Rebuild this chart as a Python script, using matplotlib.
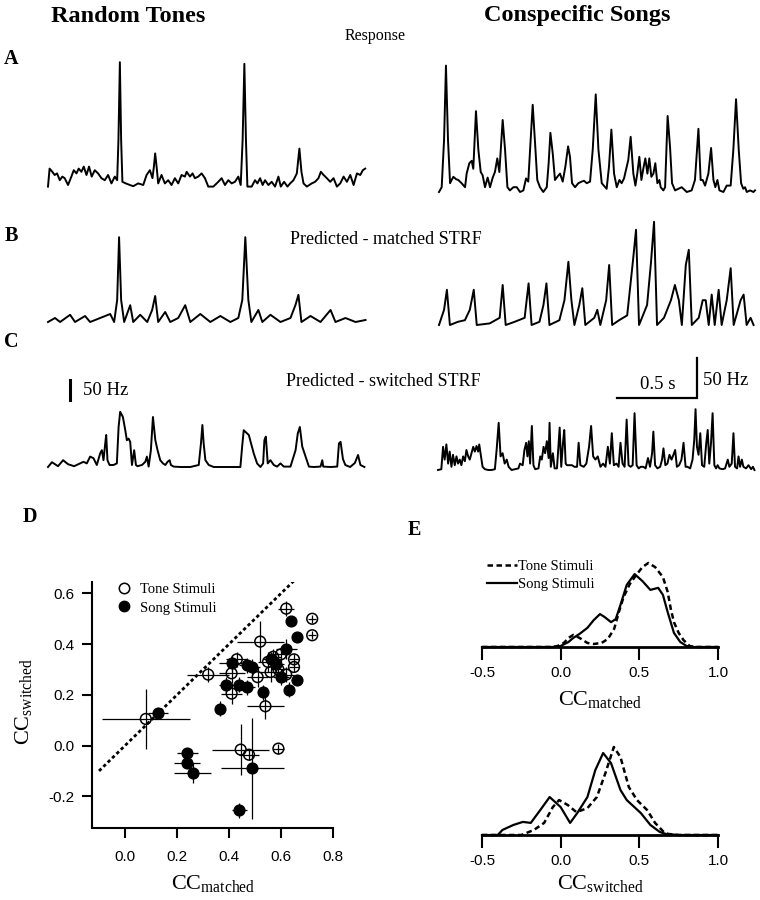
"""
Respuestas, predicciones STRF y comparacion CC (paneles A-E).
"""

import matplotlib
matplotlib.use('Agg')
import matplotlib.pyplot as plt
from matplotlib.lines import Line2D

plt.rcParams['font.family'] = ['Liberation Serif', 'DejaVu Serif']
plt.rcParams['mathtext.fontset'] = 'custom'
plt.rcParams['mathtext.rm'] = 'Liberation Serif'
plt.rcParams['mathtext.it'] = 'Liberation Serif:italic'

SANS = 'Liberation Sans'

# ============================================================
# DATOS - trazas (tiempo en ms, tasa en Hz)
# ============================================================

# A - Response, Random Tones
a_tone_t = [0, 10, 27, 42, 57, 74, 90, 105, 126, 147, 162, 179, 193, 210, 225, 242, 258, 275,
            294, 315, 336, 357, 378, 399, 420, 435, 443, 452, 460, 468, 489, 515, 536, 567,
            599, 620, 641, 657, 666, 674, 683, 693, 714, 735, 756, 777, 798, 819, 840, 861,
            872, 893, 909, 924, 945, 966, 987, 1008, 1040, 1071, 1092, 1113, 1134, 1155, 1176,
            1197, 1212, 1224, 1235, 1245, 1254, 1281, 1302, 1317, 1334, 1350, 1365, 1386,
            1407, 1428, 1449, 1464, 1485, 1506, 1523, 1544, 1565, 1581, 1594, 1607, 1628,
            1659, 1680, 1701, 1716, 1733, 1754, 1775, 1796, 1817, 1838, 1859, 1880, 1901,
            1922, 1943, 1964, 1980, 1995]
a_tone_r = [1, 46, 38, 30, 34, 17, 26, 22, 5, 26, 42, 34, 46, 38, 51, 30, 51, 26,
            42, 34, 22, 17, 30, 9, 26, 17, 117, 312, 117, 13, 9, 5, 2, 9,
            5, 30, 42, 22, 51, 84, 51, 9, 30, 9, 17, 5, 22, 9, 30, 26,
            38, 26, 34, 22, 26, 34, 22, 1, 1, 13, 22, 5, 17, 9, 13,
            26, 5, 117, 308, 117, 1, 1, 17, 9, 22, 5, 17, 5,
            13, 1, 26, 1, 13, 1, 9, 17, 34, 96, 38, 9, 1,
            9, 13, 22, 38, 30, 22, 13, 22, 1, 9, 26, 13, 30,
            5, 34, 30, 42, 46]

# A - Response, Conspecific Songs
a_song_t = [0, 17, 32, 44, 57, 70, 80, 91, 108, 122, 143, 165, 175, 192, 207, 217, 234, 249,
            264, 276, 291, 308, 323, 340, 354, 369, 382, 403, 418, 433, 449, 471, 492, 513,
            534, 551, 565, 580, 593, 608, 622, 639, 660, 682, 694, 705, 720, 734, 749, 766,
            783, 800, 817, 829, 842, 861, 882, 903, 918, 935, 956, 973, 992, 1009, 1030,
            1061, 1076, 1091, 1108, 1125, 1142, 1156, 1171, 1198, 1213, 1230, 1243, 1255,
            1268, 1281, 1293, 1306, 1319, 1331, 1344, 1357, 1369, 1382, 1395, 1403, 1420,
            1431, 1447, 1462, 1475, 1494, 1515, 1536, 1568, 1599, 1620, 1642, 1656, 1669,
            1684, 1705, 1722, 1737, 1749, 1762, 1775, 1800, 1821, 1846, 1863, 1880, 1897,
            1912, 1926, 1937, 1948, 1969, 1990, 2000]
a_song_r = [0, 6, 65, 158, 65, 11, 15, 19, 16, 15, 11, 6, 23, 36, 39, 29, 101, 53,
            25, 21, 6, 18, 6, 18, 25, 42, 25, 90, 53, 6, 2, 6, 6, 0,
            2, 17, 13, 65, 109, 61, 15, 6, 0, 6, 36, 74, 48, 15, 19, 23,
            13, 32, 57, 44, 11, 6, 11, 13, 14, 11, 13, 53, 122, 53, 11,
            4, 32, 78, 23, 6, 15, 11, 17, 40, 69, 23, 8, 23,
            44, 15, 29, 42, 23, 42, 19, 23, 36, 11, 15, 6, 2,
            6, 95, 57, 11, 2, 4, 6, 0, 2, 15, 79, 15, 15,
            8, 23, 55, 15, 6, 15, 2, 0, 8, 8, 53, 116, 53,
            11, 4, 6, 0, 2, 0, 2]

# B - Predicted, matched STRF, Random Tones
b_tone_t = [0, 44, 76, 139, 170, 233, 265, 328, 391, 416, 435, 447, 460, 479, 517, 536, 580,
            624, 655, 674, 693, 737, 769, 819, 863, 895, 958, 1021, 1084, 1147, 1197, 1222,
            1241, 1260, 1279, 1323, 1348, 1399, 1462, 1525, 1556, 1575, 1594, 1651, 1714,
            1777, 1808, 1871, 1934, 1997]
b_tone_r = [0, 10, 0, 18, 0, 15, 0, 10, 20, 0, 55, 212, 55, 0, 42, 0, 18,
            0, 30, 65, 0, 25, 0, 10, 42, 0, 20, 0, 15, 0, 10, 55,
            212, 55, 0, 30, 0, 18, 0, 10, 42, 68, 0, 15, 0,
            30, 0, 10, 0, 5]

# B - Predicted, matched STRF, Conspecific Songs
b_song_t = [0, 32, 50, 69, 120, 164, 195, 220, 239, 321, 384, 403, 422, 479, 542, 567, 586,
            636, 661, 680, 699, 762, 794, 819, 838, 857, 888, 907, 926, 983, 1002, 1021,
            1058, 1077, 1096, 1140, 1191, 1228, 1247, 1266, 1317, 1342, 1361, 1380, 1424,
            1468, 1493, 1518, 1537, 1562, 1581, 1600, 1644, 1669, 1688, 1707, 1726, 1745,
            1770, 1789, 1821, 1846, 1865, 1909, 1928, 1947, 1972, 1991]
b_song_r = [0, 19, 44, 0, 4, 6, 19, 44, 0, 2, 9, 50, 0, 4, 9, 52, 0,
            4, 25, 52, 0, 6, 31, 79, 31, 0, 25, 46, 0, 9, 19, 0,
            31, 75, 0, 6, 12, 81, 119, 0, 25, 79, 129, 0, 9,
            31, 50, 31, 0, 75, 94, 0, 9, 31, 31, 0, 38, 0,
            44, 0, 31, 71, 0, 31, 38, 0, 9, 0]

# C - Predicted, switched STRF, Random Tones
c_tone_t = [0, 25, 63, 95, 126, 164, 202, 223, 244, 265, 286, 307, 328, 339, 349, 360, 366,
            374, 387, 412, 433, 444, 454, 471, 486, 496, 507, 517, 528, 542, 553, 563,
            591, 612, 622, 633, 647, 660, 675, 689, 706, 723, 738, 752, 765, 773, 790,
            832, 895, 948, 962, 971, 979, 990, 1011, 1042, 1210, 1221, 1231, 1252, 1263,
            1277, 1294, 1315, 1336, 1353, 1361, 1370, 1382, 1399, 1420, 1441, 1462, 1483,
            1525, 1557, 1571, 1584, 1599, 1620, 1641, 1672, 1714, 1725, 1731, 1777, 1819,
            1830, 1840, 1855, 1870, 1900, 1930, 1950, 1965, 1990]
c_tone_r = [0, 12, 2, 17, 7, 2, 9, 13, 9, 26, 22, 5, 34, 42, 17, 59, 80,
            17, 5, 5, 9, 100, 138, 125, 92, 67, 71, 63, 5, 42, 5, 2,
            5, 13, 26, 1, 42, 125, 67, 42, 17, 9, 5, 13, 17, 5, 1,
            0, 0, 5, 59, 105, 59, 17, 5, 0, 0, 51, 92, 84, 80,
            59, 34, 9, 0, 9, 67, 76, 9, 17, 5, 1, 9, 1,
            1, 42, 84, 100, 51, 26, 1, 0, 1, 17, 1, 0, 1,
            59, 63, 20, 5, 0, 10, 30, 5, 0]

# C - Predicted, switched STRF, Conspecific Songs
c_song_t = [0, 21, 32, 42, 53, 64, 74, 85, 95, 106, 117, 127, 138, 148, 159, 170, 180, 191,
            201, 223, 233, 244, 254, 261, 269, 282, 297, 318, 339, 360, 371, 384, 396, 409,
            422, 435, 447, 466, 488, 509, 519, 536, 547, 558, 566, 575, 583, 594, 604, 615,
            636, 647, 657, 668, 678, 689, 700, 706, 714, 727, 738, 753, 770, 780, 791, 799,
            808, 816, 833, 848, 863, 880, 890, 901, 922, 939, 956, 969, 982, 996, 1011,
            1028, 1045, 1060, 1075, 1088, 1100, 1113, 1130, 1143, 1155, 1168, 1181, 1194,
            1206, 1219, 1232, 1244, 1257, 1270, 1283, 1300, 1314, 1329, 1342, 1355, 1363,
            1374, 1389, 1406, 1418, 1427, 1439, 1452, 1465, 1478, 1490, 1501, 1512, 1526,
            1541, 1554, 1567, 1579, 1596, 1611, 1622, 1630, 1639, 1649, 1660, 1671, 1685,
            1698, 1707, 1717, 1728, 1738, 1749, 1760, 1770, 1781, 1802, 1817, 1834, 1844,
            1859, 1870, 1880, 1893, 1902, 1912, 1923, 1933, 1950, 1965, 1982, 1993, 2003]
c_song_r = [0, 1, 29, 13, 32, 8, 23, 4, 19, 6, 17, 8, 13, 6, 17, 11, 25, 17,
            13, 29, 23, 30, 23, 32, 21, 4, 1, 0, 0, 1, 25, 59, 17, 21,
            8, 13, 4, 0, 1, 2, 8, 6, 25, 34, 17, 36, 8, 55, 6, 1,
            2, 17, 13, 29, 21, 36, 15, 59, 4, 21, 2, 2, 53, 4, 34, 50,
            8, 6, 6, 6, 4, 4, 34, 6, 4, 8, 29, 55, 17, 13, 17,
            4, 8, 4, 29, 8, 46, 6, 8, 4, 34, 8, 4, 63,
            6, 4, 6, 71, 6, 2, 4, 4, 2, 15, 4, 21, 48,
            6, 2, 4, 13, 27, 6, 8, 19, 13, 19, 25, 4, 6,
            13, 34, 4, 4, 2, 13, 38, 76, 29, 19, 46, 6, 4,
            34, 50, 8, 34, 71, 6, 2, 6, 2, 1, 2, 13, 4,
            8, 46, 4, 2, 17, 4, 13, 4, 2, 6, 1, 4, 0]

# ============================================================
# DATOS - panel D (CC matched vs CC switched)
# ============================================================

tone_cc_matched = [0.62, 0.72, 0.72, 0.52, 0.43, 0.32, 0.41, 0.51, 0.41, 0.54, 0.08, 0.445,
                   0.477, 0.59, 0.55, 0.57, 0.60, 0.65, 0.59, 0.65, 0.56, 0.62]
tone_cc_switched = [0.54, 0.50, 0.435, 0.41, 0.34, 0.28, 0.285, 0.27, 0.205, 0.155, 0.105,
                    -0.016, -0.036, -0.012, 0.33, 0.35, 0.36, 0.34, 0.30, 0.31, 0.29, 0.28]
tone_err_matched = [0.03, 0.015, 0.015, 0.09, 0.04, 0.08, 0.05, 0.04, 0.04, 0.07, 0.17, 0.11,
                    0.04, 0.02, 0.04, 0.03, 0.03, 0.02, 0.03, 0.02, 0.04, 0.03]
tone_err_switched = [0.03, 0.015, 0.015, 0.08, 0.03, 0.03, 0.04, 0.04, 0.04, 0.05, 0.12, 0.10,
                     0.02, 0.02, 0.04, 0.03, 0.03, 0.02, 0.03, 0.02, 0.04, 0.03]

song_cc_matched = [0.64, 0.66, 0.62, 0.41, 0.47, 0.49, 0.39, 0.44, 0.47, 0.53, 0.365, 0.127,
                   0.24, 0.24, 0.26, 0.49, 0.44, 0.58, 0.60, 0.63, 0.66, 0.56]
song_cc_switched = [0.49, 0.43, 0.38, 0.325, 0.317, 0.31, 0.24, 0.24, 0.23, 0.21, 0.146, 0.13,
                    -0.03, -0.067, -0.107, -0.09, -0.255, 0.32, 0.27, 0.22, 0.26, 0.34]
song_err_matched = [0.015, 0.015, 0.04, 0.05, 0.03, 0.03, 0.03, 0.03, 0.03, 0.02, 0.02, 0.04,
                    0.04, 0.05, 0.07, 0.12, 0.03, 0.03, 0.03, 0.02, 0.02, 0.03]
song_err_switched = [0.015, 0.015, 0.04, 0.03, 0.03, 0.03, 0.03, 0.03, 0.03, 0.03, 0.03, 0.02,
                     0.02, 0.02, 0.04, 0.2, 0.03, 0.03, 0.03, 0.03, 0.02, 0.03]

# ============================================================
# DATOS - panel E (distribuciones)
# ============================================================

tone_m_x = [-0.5, -0.05, -0.02, 0.02, 0.05, 0.08, 0.12, 0.17, 0.21, 0.26, 0.30, 0.34, 0.37,
            0.40, 0.44, 0.48, 0.52, 0.557, 0.60, 0.65, 0.68, 0.70, 0.72, 0.75, 0.78, 0.82,
            0.85, 1.0]
tone_m_d = [0, 0, 0.03, 0.12, 0.27, 0.36, 0.27, 0.12, 0.09, 0.12, 0.24, 0.54, 1.04,
            1.49, 1.88, 2.14, 2.38, 2.50, 2.38, 2.08, 1.64, 1.13, 0.74, 0.42, 0.21, 0.03,
            0, 0]
song_m_x = [-0.5, -0.05, 0.0, 0.05, 0.08, 0.12, 0.17, 0.21, 0.25, 0.28, 0.32, 0.35, 0.38,
            0.42, 0.47, 0.52, 0.57, 0.62, 0.65, 0.68, 0.72, 0.76, 0.80, 0.85, 1.0]
song_m_d = [0, 0, 0.03, 0.15, 0.27, 0.39, 0.57, 0.80, 0.98, 0.89, 0.74, 0.83, 1.25,
            1.85, 2.17, 1.96, 1.70, 1.76, 1.55, 1.04, 0.42, 0.15, 0.03, 0, 0]

tone_s_x = [-0.5, -0.25, -0.17, -0.105, -0.05, -0.01, 0.046, 0.10, 0.17, 0.23, 0.285,
            0.338, 0.38, 0.433, 0.485, 0.55, 0.60, 0.655, 0.685, 0.75, 1.0]
tone_s_d = [0, 0, 0.15, 0.36, 0.83, 1.04, 0.89, 0.68, 0.80, 1.13, 1.85,
            2.62, 2.32, 1.43, 1.04, 0.74, 0.36, 0.09, 0.03, 0, 0]
song_s_x = [-0.5, -0.40, -0.37, -0.30, -0.24, -0.19, -0.13, -0.07, 0.0, 0.06, 0.105, 0.17,
            0.22, 0.27, 0.32, 0.38, 0.42, 0.51, 0.57, 0.63, 0.67, 0.75, 1.0]
song_s_d = [0, 0, 0.15, 0.30, 0.39, 0.36, 0.74, 1.13, 0.83, 0.36, 0.65, 1.13,
            1.93, 2.44, 2.14, 1.34, 1.04, 0.65, 0.30, 0.09, 0.03, 0, 0]

# ============================================================
# FIGURA
# ============================================================

W, H = 760, 900
fig = plt.figure(figsize=(W / 100, H / 100), dpi=100)


def px_axes(left, top, width, height):
    """Ejes colocados en pixeles (origen arriba a la izquierda)."""
    return fig.add_axes([left / W, 1 - (top + height) / H, width / W, height / H])


def trace_axes(left, base, width, hz_per_px, t, r, height=140):
    ax = px_axes(left, base - height, width, height)
    ax.plot(t, r, color='black', lw=1.4, clip_on=False)
    ax.set_xlim(0, 2000)
    ax.set_ylim(0, height * hz_per_px)
    ax.axis('off')
    return ax


def ftext(x, y, s, **kw):
    fig.text(x / W, 1 - y / H, s, ha=kw.pop('ha', 'center'), va=kw.pop('va', 'center'), **kw)


LEFT_HZ = 2.5    # Hz por pixel (columna izquierda)
RIGHT_HZ = 1.25  # Hz por pixel (columna derecha)

trace_axes(48, 187, 318, LEFT_HZ, a_tone_t, a_tone_r)
trace_axes(439, 192, 316, RIGHT_HZ, a_song_t, a_song_r)
trace_axes(48, 322, 318, LEFT_HZ, b_tone_t, b_tone_r)
trace_axes(439, 325, 316, RIGHT_HZ, b_song_t, b_song_r)
ax_cl = trace_axes(48, 467, 318, LEFT_HZ, c_tone_t, c_tone_r)
ax_cr = trace_axes(438, 470, 316, RIGHT_HZ, c_song_t, c_song_r)

# Barras de escala
ax_cl.plot([139, 139], [167, 217], color='black', lw=2.2, clip_on=False)
ax_cl.text(220, 192, '50 Hz', fontsize=13.5, ha='left', va='center')
ax_cr.plot([1134, 1638, 1638], [90, 90, 140], color='black', lw=1.6, clip_on=False,
           solid_joinstyle='miter')
ax_cr.text(1390, 96, '0.5 s', fontsize=13.5, ha='center', va='bottom')
ax_cr.text(1680, 112, '50 Hz', fontsize=13.5, ha='left', va='center')

# Titulos y letras
ftext(128, 16, 'Random Tones', fontsize=17.5, fontweight='bold')
ftext(577, 16, 'Conspecific Songs', fontsize=17.5, fontweight='bold')
ftext(375, 36, 'Response', fontsize=11.5)
ftext(386, 240, 'Predicted - matched STRF', fontsize=13)
ftext(383, 381, 'Predicted - switched STRF', fontsize=13)
for letter, (lx, ly) in {'A': (11, 59), 'B': (11, 236), 'C': (11, 342),
                         'D': (30, 517), 'E': (414, 530)}.items():
    ftext(lx, ly, letter, fontsize=14.5, fontweight='bold')

# ============================================================
# PANEL D
# ============================================================

axd = px_axes(92, 582, 241, 246)
axd.errorbar(tone_cc_matched, tone_cc_switched, xerr=tone_err_matched, yerr=tone_err_switched,
             fmt='none', ecolor='black', elinewidth=0.9, capsize=0, zorder=2)
axd.errorbar(song_cc_matched, song_cc_switched, xerr=song_err_matched, yerr=song_err_switched,
             fmt='none', ecolor='black', elinewidth=0.9, capsize=0, zorder=2)
axd.scatter(song_cc_matched, song_cc_switched, s=60, facecolor='black', edgecolor='black',
            zorder=3)
axd.scatter(tone_cc_matched, tone_cc_switched, s=60, facecolor='none', edgecolor='black',
            linewidth=1.1, zorder=4)
axd.plot([-0.1, 0.65], [-0.1, 0.65], color='black', lw=2, ls=(0, (1.2, 1.0)))

axd.set_xlim(-0.127, 0.8)
axd.set_ylim(-0.325, 0.645)
axd.set_xticks([0.0, 0.2, 0.4, 0.6, 0.8])
axd.set_yticks([-0.2, 0.0, 0.2, 0.4, 0.6])
axd.set_xticklabels(['0.0', '0.2', '0.4', '0.6', '0.8'], fontfamily=SANS, fontsize=11)
axd.set_yticklabels(['-0.2', '0.0', '0.2', '0.4', '0.6'], fontfamily=SANS, fontsize=11)
axd.tick_params(direction='out', length=7, width=1.5)
axd.tick_params(axis='x', pad=9)
axd.tick_params(axis='y', pad=5.5)
for side in ['top', 'right']:
    axd.spines[side].set_visible(False)
for side in ['left', 'bottom']:
    axd.spines[side].set_linewidth(1.5)

handles = [Line2D([], [], ls='none', marker='o', mfc='none', mec='black', ms=7.5, mew=1.1),
           Line2D([], [], ls='none', marker='o', mfc='black', mec='black', ms=7.5)]
axd.legend(handles, ['Tone Stimuli', 'Song Stimuli'], loc='upper left',
           bbox_to_anchor=(0.104, 0.996), frameon=False, fontsize=10.5, handlelength=1.0,
           handletextpad=0.6, labelspacing=0.35, borderpad=0, borderaxespad=0)

ftext(24, 702, r'CC$_{\mathrm{switched}}$', fontsize=16, rotation=90)
ftext(213, 884, r'CC$_{\mathrm{matched}}$', fontsize=16)

# ============================================================
# PANEL E
# ============================================================

DENS_PX = 33.6  # pixeles por unidad de densidad


def density_axes(top, height, tone_x, tone_d, song_x, song_d, label, ylab):
    ax = px_axes(482, top, 236, height)
    ax.plot(tone_x, tone_d, color='black', lw=1.8, ls=(0, (2.2, 1.4)), clip_on=False,
            label='Tone Stimuli')
    ax.plot(song_x, song_d, color='black', lw=1.6, clip_on=False, label='Song Stimuli')
    ax.set_xlim(-0.5, 1.0)
    ax.set_ylim(0, height / DENS_PX)
    ax.set_yticks([])
    ax.set_xticks([-0.5, 0.0, 0.5, 1.0])
    ax.set_xticklabels(['-0.5', '0.0', '0.5', '1.0'], fontfamily=SANS, fontsize=11)
    ax.tick_params(direction='out', length=9, width=1.5, pad=5)
    for side in ['top', 'right', 'left']:
        ax.spines[side].set_visible(False)
    ax.spines['bottom'].set_linewidth(2)
    ftext(600, ylab, label, fontsize=16)
    return ax


axe1 = density_axes(555, 92, tone_m_x, tone_m_d, song_m_x, song_m_d,
                    r'CC$_{\mathrm{matched}}$', 699)
axe2 = density_axes(740, 95, tone_s_x, tone_s_d, song_s_x, song_s_d,
                    r'CC$_{\mathrm{switched}}$', 884)
axe1.legend(loc='upper left', bbox_to_anchor=(0.02, 0.947), frameon=False, fontsize=10.5,
            handlelength=2.1, handletextpad=0.05, labelspacing=0.3, borderpad=0,
            borderaxespad=0)

fig.savefig('out.png', dpi=100, facecolor='white')
